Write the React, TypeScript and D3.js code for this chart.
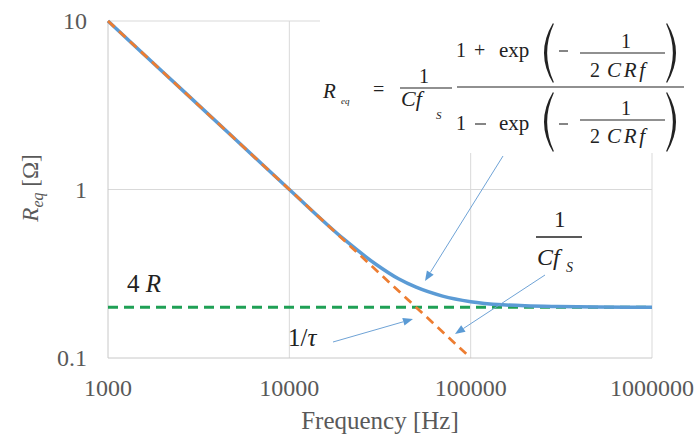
import React from "react";
import * as d3 from "d3";

const freqs = [1000, 2000, 5000, 10000, 20000, 30000, 40000, 50000, 70000, 100000, 150000, 200000, 300000, 500000, 1000000];
const reqValues = [10, 5, 2, 1.0, 0.507, 0.36, 0.295, 0.263, 0.233, 0.216, 0.207, 0.204, 0.202, 0.2007, 0.2002];
const asymFreqs = [1000, 100000];
const asymValues = [10, 0.1];
const floorFreqs = [1000, 1000000];
const floorValues = [0.2, 0.2];
const xTicks = [1000, 10000, 100000, 1000000];
const yTicks = [0.1, 1, 10];

const W = 699, H = 437;
const M = { left: 108, right: 652, top: 21, bottom: 358 };
const FS = { fontFamily: '"Liberation Serif"' };
const FSI = { fontFamily: '"Liberation Serif"', fontStyle: "italic" as const };

function Paren({ x0, x1, y0, y1, left }: { x0: number; x1: number; y0: number; y1: number; left: boolean }) {
  const ym = (y0 + y1) / 2;
  let d: string;
  if (left) {
    d = `M${x1},${y0} Q${x0 - 4},${ym} ${x1},${y1} L${x1 + 0.8},${y1 - 1} Q${x0 + 1.5},${ym} ${x1 + 0.8},${y0 + 1} Z`;
  } else {
    d = `M${x0},${y0} Q${x1 + 4},${ym} ${x0},${y1} L${x0 - 0.8},${y1 - 1} Q${x1 - 1.5},${ym} ${x0 - 0.8},${y0 + 1} Z`;
  }
  return <path d={d} fill="#222" />;
}

function Arrow({ x1, y1, x2, y2 }: { x1: number; y1: number; x2: number; y2: number }) {
  const a = Math.atan2(y2 - y1, x2 - x1);
  const L = 10, Wd = 4;
  const bx = x2 - L * Math.cos(a), by = y2 - L * Math.sin(a);
  const p1 = [bx + Wd * Math.sin(a), by - Wd * Math.cos(a)];
  const p2 = [bx - Wd * Math.sin(a), by + Wd * Math.cos(a)];
  return (
    <g>
      <line x1={x1} y1={y1} x2={bx} y2={by} stroke="#6FA3D6" strokeWidth={1} />
      <path d={`M${x2},${y2} L${p1[0]},${p1[1]} L${p2[0]},${p2[1]} Z`} fill="#5B9BD5" />
    </g>
  );
}

export default function App() {
  const x = d3.scaleLog().domain([1000, 1000000]).range([M.left, M.right]);
  const y = d3.scaleLog().domain([0.1, 10]).range([M.bottom, M.top]);

  const line = d3.line<[number, number]>().x((d) => x(d[0])).y((d) => y(d[1]));
  const smooth = d3.line<[number, number]>().x((d) => x(d[0])).y((d) => y(d[1])).curve(d3.curveMonotoneX);

  const reqPts = freqs.map((f, i) => [f, reqValues[i]] as [number, number]);
  const asymPts = asymFreqs.map((f, i) => [f, asymValues[i]] as [number, number]);
  const floorPts = floorFreqs.map((f, i) => [f, floorValues[i]] as [number, number]);

  const grid = "#D9D9D9";
  const ink = "#222";

  return (
    <svg width={W} height={H} style={{ position: "absolute", left: 0, top: 0, background: "#fff" }}>
      <rect x={0} y={0} width={W} height={H} fill="#fff" />
      {/* gridlines */}
      {xTicks.slice(1).map((t) => (
        <line key={"vx" + t} x1={x(t)} x2={x(t)} y1={M.top} y2={M.bottom} stroke={grid} strokeWidth={1} />
      ))}
      {yTicks.slice(1).map((t) => (
        <line key={"hy" + t} x1={M.left} x2={M.right} y1={y(t)} y2={y(t)} stroke={grid} strokeWidth={1} />
      ))}
      {/* axes */}
      <line x1={M.left} x2={M.left} y1={M.top} y2={M.bottom} stroke="#C8C8C8" />
      <line x1={M.left} x2={M.right} y1={M.bottom} y2={M.bottom} stroke="#C8C8C8" />

      {/* formula white backdrop */}
      <rect x={320} y={8} width={375} height={145} fill="#fff" />

      {/* series */}
      <path d={line(floorPts) || ""} fill="none" stroke="#1FA055" strokeWidth={3} strokeDasharray="10 6" />
      <path d={smooth(reqPts) || ""} fill="none" stroke="#5B9BD5" strokeWidth={3.5} strokeLinejoin="round" />
      <path d={line(asymPts) || ""} fill="none" stroke="#ED7D31" strokeWidth={2.75} strokeDasharray="9 6" />

      {/* tick labels */}
      {xTicks.map((t) => (
        <text key={"xt" + t} x={x(t)} y={396} textAnchor="middle" fontSize={24} fill="#595959" style={FS}>
          {String(t)}
        </text>
      ))}
      {yTicks.map((t) => (
        <text key={"yt" + t} x={87} y={y(t) + 8} textAnchor="end" fontSize={24} fill="#595959" style={FS}>
          {String(t)}
        </text>
      ))}

      {/* axis titles */}
      <text x={380} y={429} textAnchor="middle" fontSize={25} fill="#595959" style={FS}>Frequency [Hz]</text>
      <text transform="translate(38,188) rotate(-90)" textAnchor="middle" fontSize={23} fill="#595959" style={FS}>
        <tspan style={FSI}>R</tspan>
        <tspan style={FSI} fontSize={16} dy={5}>eq</tspan>
        <tspan dy={-5}> [Ω]</tspan>
      </text>

      {/* 4R label */}
      <text x={127} y={292} fontSize={25} fill={ink} style={FS}>
        4 <tspan style={FSI}>R</tspan>
      </text>

      {/* 1/tau label */}
      <text x={288} y={346} fontSize={25} fill={ink} style={FS}>
        1/<tspan style={FSI}>τ</tspan>
      </text>

      {/* 1/Cfs label */}
      <text x={554} y={227} fontSize={23} fill={ink} style={FS}>1</text>
      <line x1={536} x2={582} y1={237} y2={237} stroke={ink} strokeWidth={1.3} />
      <text x={537} y={265} fontSize={24} fill={ink} style={FSI}>Cf</text>
      <text x={566} y={272} fontSize={14} fill={ink} style={FSI}>S</text>

      {/* formula */}
      <g fill={ink}>
        <text x={323} y={98} fontSize={21} style={FSI}>R</text>
        <text x={341} y={104} fontSize={9} style={FSI}>eq</text>
        <text x={373} y={96} fontSize={20} style={FS}>=</text>
        <text x={419} y={83} fontSize={20} style={FS}>1</text>
        <line x1={400} x2={452} y1={88} y2={88} stroke={ink} strokeWidth={1.1} />
        <text x={401} y={106} fontSize={22} style={FSI}>Cf</text>
        <text x={436} y={119} fontSize={11} style={FSI}>S</text>
        <line x1={457} x2={684} y1={87} y2={87} stroke={ink} strokeWidth={1.1} />

        {/* numerator */}
        <text x={456} y={57} fontSize={20} style={FS}>1</text>
        <text x={474} y={57} fontSize={20} style={FS}>+</text>
        <text x={499} y={57} fontSize={21} style={FS}>exp</text>
        <Paren x0={539} x1={553} y0={23} y1={83} left={true} />
        <line x1={559} x2={568} y1={51} y2={51} stroke={ink} strokeWidth={1.1} />
        <text x={621} y={48} fontSize={20} style={FS}>1</text>
        <line x1={580} x2={665} y1={53} y2={53} stroke={ink} strokeWidth={1.1} />
        <text x={590} y={77} fontSize={20} style={FS}>2</text>
        <text x={607} y={77} fontSize={21} style={FSI} textLength={38} lengthAdjust="spacing">CRf</text>
        <Paren x0={667} x1={681} y0={23} y1={83} left={false} />

        {/* denominator */}
        <text x={456} y={130} fontSize={20} style={FS}>1</text>
        <line x1={475} x2={486} y1={124} y2={124} stroke={ink} strokeWidth={1.1} />
        <text x={499} y={130} fontSize={21} style={FS}>exp</text>
        <Paren x0={539} x1={553} y0={92} y1={152} left={true} />
        <line x1={559} x2={568} y1={124} y2={124} stroke={ink} strokeWidth={1.1} />
        <text x={621} y={115} fontSize={20} style={FS}>1</text>
        <line x1={580} x2={665} y1={120} y2={120} stroke={ink} strokeWidth={1.1} />
        <text x={590} y={143} fontSize={20} style={FS}>2</text>
        <text x={607} y={143} fontSize={21} style={FSI} textLength={38} lengthAdjust="spacing">CRf</text>
        <Paren x0={667} x1={681} y0={92} y1={152} left={false} />
      </g>

      {/* arrows */}
      <Arrow x1={333} y1={342} x2={413} y2={319} />
      <Arrow x1={503} y1={156} x2={425} y2={281} />
      <Arrow x1={545} y1={275} x2={455} y2={334} />
    </svg>
  );
}
